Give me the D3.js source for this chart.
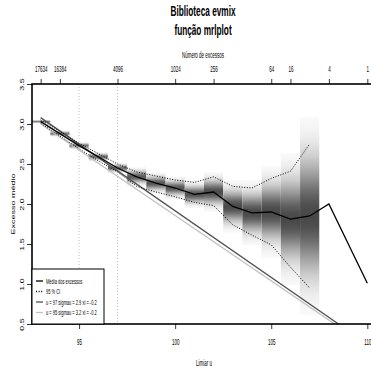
<!DOCTYPE html>
<html>
<head>
<meta charset="utf-8">
<script src="https://cdn.jsdelivr.net/npm/d3@7/dist/d3.min.js"></script>
<style>
  body { margin: 0; background: #fff; }
  text { font-family: "Liberation Sans", Arial, sans-serif; fill: #000; }
</style>
</head>
<body>
<svg width="371" height="370"></svg>
<script>
// thresholds that have a CI / shading band
const thresholds = [93, 94, 95, 96, 97, 98, 99, 100, 101, 102, 103, 104, 105, 106, 107]
const ciUpper = [3.05, 2.91, 2.76, 2.63, 2.50, 2.40, 2.35, 2.30, 2.27, 2.34, 2.22, 2.20, 2.32, 2.41, 2.75]
const ciLower = [3.01, 2.85, 2.69, 2.54, 2.40, 2.22, 2.15, 2.09, 2.02, 1.98, 1.74, 1.61, 1.49, 1.21, 0.95]

// mean residual life line
const meanU = [93, 94, 95, 96, 97, 98, 99, 100, 101, 102, 103, 104, 105, 106, 107, 108, 110]
const meanExcess = [3.03, 2.88, 2.73, 2.59, 2.45, 2.34, 2.26, 2.20, 2.12, 2.15, 1.97, 1.89, 1.90, 1.81, 1.85, 2.00, 1.01]

// fitted GPD lines (start / end)
const fitDark = [[93, 3.08], [108.5, 0.5]]
const fitLight = [[93, 3.00], [108.3, 0.5]]
const fitThresholds = [95, 97]

const xTicks = [95, 100, 105, 110]
const yTicks = [0.5, 1.0, 1.5, 2.0, 2.5, 3.0, 3.5]
const topTickU = [93, 94, 97, 100, 102, 105, 106, 108, 110]
const topTickLabels = ['17634', '16384', '4096', '1024', '256', '64', '16', '4', '1']

const legendLabels = ['Média dos excessos', '95 % CI', 'u = 97 sigmau = 2.9 xi = -0.2', 'u = 95 sigmau = 3.2 xi = -0.2']

const plot = {left: 32, top: 84, bottom: 324, right: 375}
const k = 0.5   // horizontal squeeze of the narrow text

const x = d3.scaleLinear().domain([92.55, 110.4]).range([plot.left, plot.right])
const y = d3.scaleLinear().domain([0.5, 3.5]).range([plot.bottom, plot.top])

const svg = d3.select('svg')
const defs = svg.append('defs')
defs.append('clipPath').attr('id', 'clip')
  .append('rect')
  .attr('x', plot.left).attr('y', plot.top)
  .attr('width', plot.right - plot.left).attr('height', plot.bottom - plot.top)

const inner = svg.append('g').attr('clip-path', 'url(#clip)')

// threshold marker lines
inner.selectAll('line.thr')
  .data(fitThresholds)
  .join('line')
  .attr('x1', d => x(d)).attr('x2', d => x(d))
  .attr('y1', plot.top).attr('y2', plot.bottom)
  .attr('stroke', '#b0b0b0')
  .attr('stroke-width', 0.8)
  .attr('stroke-dasharray', '1,2')

// sampling density shading
const ext = 2.7
const zs = d3.range(-ext, ext + 1e-6, ext / 10)
thresholds.forEach((u, i) => {
  const m = meanExcess[meanU.indexOf(u)]
  const sd = (ciUpper[i] - ciLower[i]) / 3.92
  const hPx = y(m - ext * sd) - y(m + ext * sd)
  // thin bands come out lighter in the original
  const g0 = 0.28 + 0.3 * Math.exp(-hPx / 14)
  const grad = defs.append('linearGradient')
    .attr('id', 'band' + i)
    .attr('gradientUnits', 'userSpaceOnUse')
    .attr('x1', 0).attr('x2', 0)
    .attr('y1', y(m + ext * sd)).attr('y2', y(m - ext * sd))
  zs.forEach(z => {
    const g = Math.round(255 * (1 - (1 - g0) * Math.exp(-z * z / 2)))
    grad.append('stop')
      .attr('offset', (z + ext) / (2 * ext))
      .attr('stop-color', `rgb(${g},${g},${g})`)
  })
  inner.append('rect')
    .attr('x', x(u - 0.5))
    .attr('width', x(u + 0.5) - x(u - 0.5))
    .attr('y', y(m + ext * sd))
    .attr('height', hPx)
    .attr('fill', `url(#band${i})`)
})

const line = d3.line().x(d => x(d[0])).y(d => y(d[1]))

inner.append('path').datum(fitLight)
  .attr('d', line).attr('fill', 'none')
  .attr('stroke', '#c0c0c0').attr('stroke-width', 1.3)
inner.append('path').datum(fitDark)
  .attr('d', line).attr('fill', 'none')
  .attr('stroke', '#505050').attr('stroke-width', 1.3)

inner.append('path').datum(thresholds.map((u, i) => [u, ciUpper[i]]))
  .attr('d', line).attr('fill', 'none')
  .attr('stroke', '#000').attr('stroke-width', 1)
  .attr('stroke-dasharray', '1,1.6')
inner.append('path').datum(thresholds.map((u, i) => [u, ciLower[i]]))
  .attr('d', line).attr('fill', 'none')
  .attr('stroke', '#000').attr('stroke-width', 1)
  .attr('stroke-dasharray', '1,1.6')

inner.append('path').datum(meanU.map((u, i) => [u, meanExcess[i]]))
  .attr('d', line).attr('fill', 'none')
  .attr('stroke', '#000').attr('stroke-width', 1.3)

// box
svg.append('rect')
  .attr('x', plot.left).attr('y', plot.top)
  .attr('width', plot.right - plot.left).attr('height', plot.bottom - plot.top)
  .attr('fill', 'none').attr('stroke', '#000').attr('stroke-width', 1.6)

// axes
const xAxis = g => g
  .attr('transform', `translate(0,${plot.bottom})`)
  .call(d3.axisBottom(x).tickValues(xTicks).tickSize(5).tickFormat(d3.format('d')))
  .call(g => g.select('.domain').remove())
  .call(g => g.selectAll('text')
    .attr('y', 0).attr('dy', 0)
    .attr('transform', `translate(0,21) scale(${k},1)`)
    .style('font-size', '9px'))

const topAxis = g => g
  .attr('transform', `translate(0,${plot.top})`)
  .call(d3.axisTop(x).tickValues(topTickU).tickSize(5).tickFormat((d, i) => topTickLabels[i]))
  .call(g => g.select('.domain').remove())
  .call(g => g.selectAll('text')
    .attr('y', 0).attr('dy', 0)
    .attr('transform', `translate(0,-12) scale(${k},1)`)
    .style('font-size', '9px'))

const yAxis = g => g
  .attr('transform', `translate(${plot.left},0)`)
  .call(d3.axisLeft(y).tickValues(yTicks).tickSize(5).tickFormat(d3.format('.1f')))
  .call(g => g.select('.domain').remove())
  .call(g => g.selectAll('text')
    .attr('x', 0).attr('y', 0).attr('dy', 0)
    .attr('text-anchor', 'middle')
    .attr('transform', `translate(-8,0) rotate(-90) scale(1,${k})`)
    .style('font-size', '9px'))

svg.append('g').call(xAxis)
svg.append('g').call(topAxis)
svg.append('g').call(yAxis)
svg.selectAll('.tick line').attr('stroke', '#000').attr('stroke-width', 0.8)

// titles and axis labels
const label = (txt, px, py, size, weight, kx) => svg.append('text')
  .attr('text-anchor', 'middle')
  .attr('transform', `translate(${px},${py}) scale(${kx},1)`)
  .style('font-size', size + 'px')
  .style('font-weight', weight)
  .text(txt)

label('Biblioteca evmix', 203, 16, 15, 'bold', 0.55)
label('função mrlplot', 203, 35, 15, 'bold', 0.55)
label('Número de excessos', 203, 58, 9, 'normal', k)
label('Limiar u', 204, 366, 9, 'normal', k)

svg.append('text')
  .attr('text-anchor', 'middle')
  .attr('transform', `translate(15,${(plot.top + plot.bottom) / 2}) rotate(-90) scale(1,${k})`)
  .style('font-size', '9px')
  .text('Excesso médio')

// legend
const legend = svg.append('g')
legend.append('rect')
  .attr('x', plot.left).attr('y', 269)
  .attr('width', 72).attr('height', plot.bottom - 269)
  .attr('fill', '#fff').attr('stroke', '#000').attr('stroke-width', 1)

const legendStyles = [
  {stroke: '#000', dash: null},
  {stroke: '#000', dash: '1,1.6'},
  {stroke: '#505050', dash: null},
  {stroke: '#c0c0c0', dash: null}
]
legendLabels.forEach((t, i) => {
  const ly = 281 + i * 10.5
  legend.append('line')
    .attr('x1', 36).attr('x2', 43).attr('y1', ly).attr('y2', ly)
    .attr('stroke', legendStyles[i].stroke).attr('stroke-width', 1.3)
    .attr('stroke-dasharray', legendStyles[i].dash)
  legend.append('text')
    .attr('transform', `translate(46,${ly + 2.5}) scale(${k},1)`)
    .style('font-size', '8px')
    .text(t)
})
</script>
</body>
</html>
